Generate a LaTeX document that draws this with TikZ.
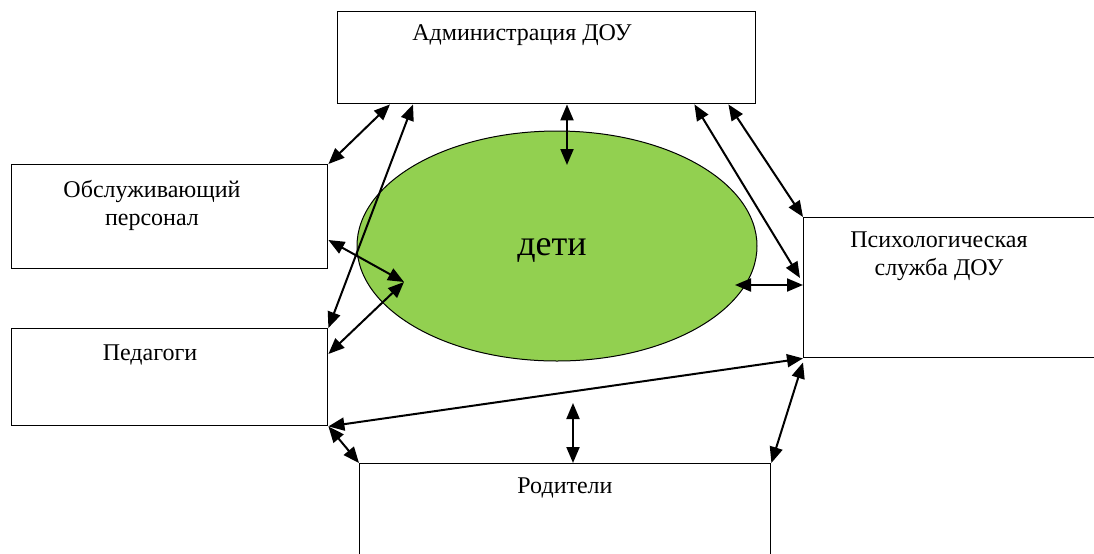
\documentclass[tikz,border=0pt]{standalone}
\usepackage{fontspec}
\setmainfont{Liberation Serif}
\usetikzlibrary{calc, arrows.meta, shapes.geometric}
\definecolor{kidsgreen}{RGB}{146,208,80}

\begin{document}
\begin{tikzpicture}[x=0.5pt, y=-0.5pt,
   >={Triangle[length=8pt,width=6.5pt]},
   box/.style = {draw, line width=0.7pt, anchor=north west, inner sep=0pt},
   lbl/.style = {font=\fontsize{12}{14}\selectfont, align=center},
   link/.style = {<->, line width=1pt}]
   \useasboundingbox (0,0) rectangle (1094,553);

   \node[box, minimum width=209pt, minimum height=46pt]  (admin)   at (337,11)  {};
   \node[box, minimum width=158pt, minimum height=52pt]  (staff)   at (11,164)  {};
   \node[box, minimum width=158pt, minimum height=48.5pt] (teach)  at (11,328)  {};
   \node[box, minimum width=160pt, minimum height=70pt]  (psych)   at (803,217) {};
   \node[box, minimum width=205.5pt, minimum height=60pt] (parents) at (359,463) {};
   \node[ellipse, draw, fill=kidsgreen, line width=0.5pt,
         minimum width=200pt, minimum height=115pt] (kids) at (557,246) {};

   \node[lbl] (adminlbl)   at (522,35)  {Администрация ДОУ};
   \node[lbl] (stafflbl)   at (152,205) {Обслуживающий\\персонал};
   \node[lbl] (teachlbl)   at (150,355) {Педагоги};
   \node[lbl] (psychlbl)   at (939,256) {Психологическая\\служба ДОУ};
   \node[lbl] (parentslbl) at (565,488) {Родители};
   \node[font=\fontsize{18}{22}\selectfont] (kidslbl) at (552,250) {дети};

   % points inside the ellipse
   \coordinate (k1) at (567,165);
   \coordinate (k2) at (735,285);
   \coordinate (k3) at (404,282);
   \coordinate (k4) at (573,403);

   \draw[link] (staff.north east) -- ($(admin.south west)+(53,0)$);
   \draw[link] (teach.north east) -- ($(admin.south west)+(76,0)$);
   \draw[link] ($(admin.south west)+(230,0)$) -- (k1);
   \draw[link] ($(admin.south east)+(-62,0)$) -- ($(psych.north west)+(-3,61)$);
   \draw[link] ($(admin.south east)+(-28,0)$) -- (psych.north west);
   \draw[link] (k2) -- ($(psych.north west)+(0,68)$);
   \draw[link] ($(staff.north east)+(0,76)$) -- (k3);
   \draw[link] ($(teach.north east)+(0,26)$) -- (k3);
   \draw[link] (teach.south east) -- (psych.south west);
   \draw[link] (teach.south east) -- (parents.north west);
   \draw[link] (parents.north east) -- ($(psych.south west)+(0,4)$);
   \draw[link] (k4) -- ($(parents.north west)+(214,0)$);
\end{tikzpicture}
\end{document}
